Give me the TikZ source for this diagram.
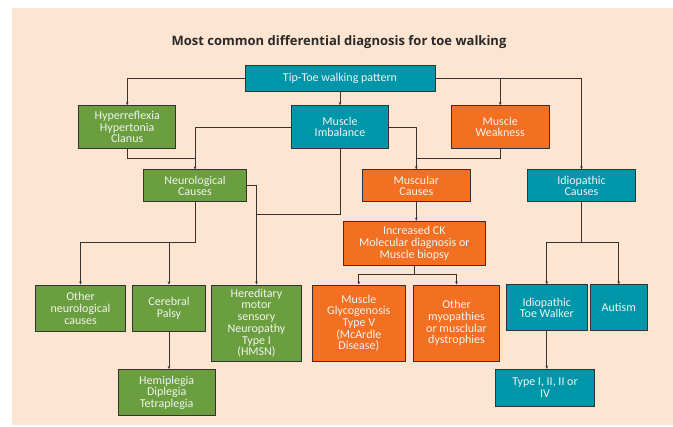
\documentclass[tikz,border=0pt]{standalone}
\usepackage{fontspec}
\setmainfont{Carlito}
\newfontfamily\titlefont{Open Sans}
\usetikzlibrary{arrows.meta}
\definecolor{bgc}{HTML}{FDE5D1}
\definecolor{tealc}{HTML}{0096A9}
\definecolor{greenc}{HTML}{6A9E3E}
\definecolor{orangec}{HTML}{F36F22}
\definecolor{linec}{HTML}{333333}
\definecolor{txtc}{HTML}{F2F4F0}
\tikzset{
  x=1pt, y=-1pt,
  box/.style={draw=linec, line width=0.9pt, fill=#1, text=txtc, inner sep=1pt,
    align=center, font=\fontsize{12}{11.7}\selectfont},
  tbox/.style={box=tealc},
  gbox/.style={box=greenc},
  obox/.style={box=orangec},
  conn/.style={draw=linec, line width=0.8pt},
  arr/.style={conn, -{Stealth[length=3.2pt,width=2.6pt]}},
}
\newcommand{\bx}[6]{\node[#1, minimum width=#4, minimum height=#5] (#2) at (#3) {#6};}
\begin{document}
\begin{tikzpicture}
\useasboundingbox (0,0) rectangle (673,427);
\fill[white] (0,0) rectangle (673,427);
\fill[bgc] (12,8) rectangle (673,425);
\node[font=\titlefont\bfseries\fontsize{13}{15}\selectfont, text=linec!80!black] (title) at (339,42) {Most common differential diagnosis for toe walking};
% boxes
\bx{tbox}{tip}{340,78}{190pt}{26pt}{Tip-Toe walking pattern}
\bx{gbox}{hyp}{127.2,127}{97pt}{42.6pt}{Hyperreflexia\\Hypertonia\\Clanus}
\bx{tbox}{imb}{340,127}{97.4pt}{42.6pt}{Muscle\\Imbalance}
\bx{obox}{weak}{500.2,127}{97.7pt}{42.6pt}{Muscle\\Weakness}
\bx{gbox}{neuro}{195,185.8}{103.4pt}{31.7pt}{Neurological\\Causes}
\bx{obox}{muscc}{416.3,185.8}{108pt}{31.7pt}{Muscular\\Causes}
\bx{tbox}{idc}{581.5,185.8}{108.4pt}{31.7pt}{Idiopathic\\Causes}
\bx{obox}{ck}{414.3,243.3}{142pt}{44pt}{Increased CK\\Molecular diagnosis or\\Muscle biopsy}
\bx{gbox}{oth}{80.5,308.2}{90.4pt}{46.3pt}{Other\\neurological\\causes}
\bx{gbox}{cp}{169,308.2}{73.4pt}{46.3pt}{Cerebral\\Palsy}
\bx{gbox}{hmsn}{256.5,323.2}{90.4pt}{76.3pt}{Hereditary\\motor\\sensory\\Neuropathy\\Type I\\(HMSN)}
\bx{obox}{gly}{358.8,323.2}{93pt}{76.3pt}{Muscle\\Glycogenosis\\Type V\\(McArdle\\Disease)}
\bx{obox}{myo}{456.5,323.2}{86.4pt}{76.3pt}{Other\\myopathies\\or musclular\\dystrophies}
\bx{tbox}{itw}{546.8,307.8}{81pt}{45.7pt}{Idiopathic\\Toe Walker}
\bx{tbox}{aut}{618.8,307.8}{57pt}{45.7pt}{Autism}
\bx{gbox}{hemi}{166.7,392.8}{96.7pt}{46.3pt}{Hemiplegia\\Diplegia\\Tetraplegia}
\bx{tbox}{type}{545,388}{98.6pt}{37.4pt}{Type I, II, II or\\IV}
% junctions
\coordinate (jw) at (500.2,78);
\coordinate (jn) at (195,158.3);
\coordinate (jm) at (416.3,158.3);
\coordinate (jh) at (256.5,214.7);
\coordinate (nb) at (195,242.7);
\coordinate (cb) at (414.3,274.3);
\coordinate (ib) at (581.5,242);
% connectors
\draw[arr] (tip.west) -| (hyp.north);
\draw[arr] (tip.south) -- (imb.north);
\draw[arr] (tip.east) -| (idc.north);
\draw[arr] (jw) -- (weak.north);
\draw[arr] (imb.west) -| (neuro.north);
\draw[conn] (hyp.south) |- (jn);
\draw[arr] (imb.east) -| (muscc.north);
\draw[conn] (weak.south) |- (jm);
\draw[arr] (neuro.east) -| (hmsn.north);
\draw[conn] (imb.south) |- (jh);
\draw[conn] (neuro.south) -- (nb);
\draw[arr] (nb) -| (oth.north);
\draw[arr] (nb) -| (cp.north);
\draw[arr] (cp.south) -- (cp.south |- hemi.north);
\draw[arr] (muscc.south) -- (muscc.south |- ck.north);
\draw[conn] (ck.south) -- (cb);
\draw[arr] (cb) -| (gly.north);
\draw[arr] (cb) -| (myo.north);
\draw[conn] (idc.south) -- (ib);
\draw[arr] (ib) -| (itw.north);
\draw[arr] (ib) -| (aut.north);
\draw[arr] (itw.south) -- (itw.south |- type.north);
\end{tikzpicture}
\end{document}
